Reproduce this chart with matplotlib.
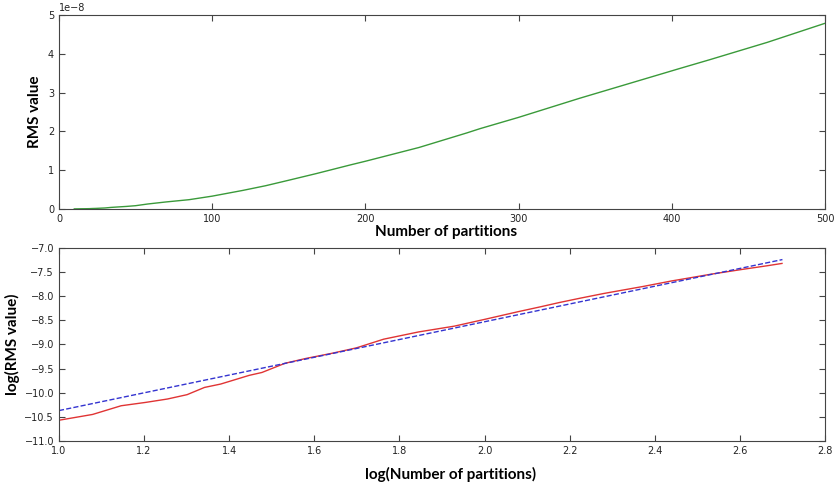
import numpy as np
import matplotlib
matplotlib.use("Agg")
import matplotlib.pyplot as plt

plt.rcParams["xtick.direction"] = "in"
plt.rcParams["ytick.direction"] = "in"
plt.rcParams["xtick.top"] = True
plt.rcParams["ytick.right"] = True
plt.rcParams["font.size"] = 7

# log10(number of partitions) and log10(RMS value)
log_n = [1.000, 1.079, 1.146, 1.204, 1.255, 1.301, 1.342, 1.380, 1.447, 1.477,
         1.531, 1.580, 1.643, 1.699, 1.763, 1.845, 1.929, 2.000, 2.079, 2.130,
         2.176, 2.225, 2.279, 2.301, 2.371, 2.425, 2.439, 2.477, 2.531, 2.607,
         2.628, 2.665, 2.699]
log_rms = [-10.57, -10.45, -10.27, -10.20, -10.13, -10.04, -9.89, -9.82, -9.64, -9.58,
           -9.39, -9.29, -9.18, -9.07, -8.89, -8.74, -8.62, -8.48, -8.32, -8.222,
           -8.13, -8.04, -7.945, -7.91, -7.80, -7.708, -7.684, -7.627, -7.545, -7.442,
           -7.415, -7.367, -7.32]

# least squares fit line, end points
fit_x = [1.0, 2.7]
fit_y = [-10.37, -7.24]

partitions = 10 ** np.array(log_n)
rms = 10 ** np.array(log_rms)

label_font = dict(family="Lato", weight="bold", fontsize=11)

fig = plt.figure(figsize=(8.34, 4.82), dpi=100)

# --- upper panel: RMS vs partitions ---
ax1 = fig.add_axes([0.0707, 0.5664, 0.9185, 0.4025])
ax1.plot(partitions, rms, color="#3a9a3a", lw=1)
ax1.set_xlim(0, 500)
ax1.set_ylim(0, 5e-8)
ax1.set_xticks([0, 100, 200, 300, 400, 500])
ax1.set_xlabel("Number of partitions", labelpad=2, **label_font)
ax1.set_ylabel("RMS value", labelpad=4, **label_font)
ax1.xaxis.set_label_coords(0.505, -0.08)

# --- lower panel: log-log ---
ax2 = fig.add_axes([0.0707, 0.0851, 0.9185, 0.4004])
ax2.plot(log_n, log_rms, color="#e03434", lw=1)
ax2.plot(fit_x, fit_y, "--", color="#3434d0", lw=1)
ax2.set_xlim(1.0, 2.8)
ax2.set_ylim(-11.0, -7.0)
ax2.set_xticks(np.arange(1.0, 2.81, 0.2))
ax2.set_yticks(np.arange(-11.0, -6.99, 0.5))
ax2.set_xlabel("log(Number of partitions)", **label_font)
ax2.set_ylabel("log(RMS value)", labelpad=3, **label_font)
ax2.xaxis.set_label_coords(0.511, -0.135)

for ax in (ax1, ax2):
    for s in ax.spines.values():
        s.set_color("#444444")
    ax.tick_params(length=4, colors="#444444", labelcolor="#222222")

plt.savefig("out.png", dpi=100)
